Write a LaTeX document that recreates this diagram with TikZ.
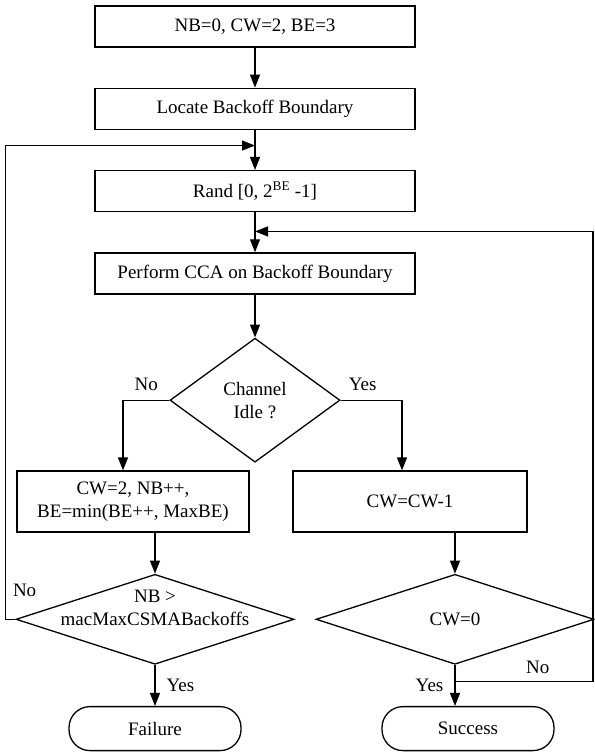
\documentclass[tikz,border=0pt]{standalone}
\usepackage{fontspec}
\setmainfont{Liberation Serif}
\usetikzlibrary{shapes.geometric, positioning, arrows.meta, calc}

\begin{document}
\begin{tikzpicture}[
    x=1pt, y=-1pt,
    line width=1.3pt,
    font=\fontsize{19}{23}\selectfont,
    node distance = 40pt,
    box/.style={
        draw, rectangle, align=center, inner sep=0pt, minimum width=320pt, minimum height=41pt
    },
    sbox/.style={
        box, minimum width=232pt, minimum height=61pt
    },
    dia/.style={
        draw, diamond, align=center, inner sep=0pt
    },
    term/.style={
        draw, rectangle, rounded corners=21pt, inner sep=0pt, minimum width=172pt, minimum height=44pt
    },
    lbl/.style={
        inner sep=1pt
    },
    arr/.style={
        -{Triangle[length=13pt,width=10pt]}
    }
]
    \useasboundingbox (0,0) rectangle (595,756);

    \node[box] (init) at (255,26.5) {NB=0, CW=2, BE=3};
    \node[box,below=of init] (locate) {Locate Backoff Boundary};
    \node[box,below=of locate] (rand) {Rand [0, 2\textsuperscript{BE} -1]};
    \node[box,below=of rand] (cca) {Perform CCA on Backoff Boundary};
    \node[dia,below=43pt of cca,minimum width=170pt,minimum height=124pt] (chan) {Channel\\Idle ?};

    \node[sbox] (upd) at (133,501.5) {CW=2, NB++,\\BE=min(BE++, MaxBE)};
    \node[sbox,minimum width=234pt] (cwdec) at (410,501.5) {CW=CW-1};

    \node[dia,below=41pt of upd,xshift=22pt,minimum width=278pt,minimum height=90pt] (nbchk) {};
    \node[align=center,inner sep=0pt] (nbtxt) at ([yshift=11pt]nbchk.center) {NB >\\macMaxCSMABackoffs};
    \node[dia,below=41pt of cwdec,xshift=45pt,minimum width=278pt,minimum height=90pt] (cwchk) {CW=0};

    \node[term,below=41pt of nbchk] (fail) {Failure};
    \node[term,below=41pt of cwchk,xshift=13pt] (succ) {Success};

    % join points of the two loops
    \coordinate (j1) at ($(locate.south)!.39!(rand.north)$);
    \coordinate (j2) at ($(rand.south)!.48!(cca.north)$);
    \coordinate (j3) at ($(cwchk.south)!.41!(cwchk.south |- succ.north)$);

    \draw[arr] (init) -- (locate);
    \draw[arr] (locate) -- (rand);
    \draw[arr] (rand) -- (cca);
    \draw[arr] (cca) -- (chan);
    \draw[arr] (chan.west) -| node[lbl,pos=.25,above=8pt]{No} ([xshift=-10pt]upd.north);
    \draw[arr] (chan.east) -| node[lbl,pos=.18,above=8pt]{Yes} ([xshift=-8pt]cwdec.north);
    \draw[arr] (upd.south -| nbchk.north) -- (nbchk);
    \draw[arr] (cwdec.south -| cwchk.north) -- (cwchk);
    \draw[arr] (nbchk) -- node[lbl,right=10pt]{Yes} (fail);
    \draw[arr] (cwchk) -- node[lbl,left=10pt]{Yes} (cwchk.south |- succ.north);

    \draw[arr] (nbchk.west) -- node[lbl,pos=0,anchor=base west,xshift=-4pt,yshift=23pt]{No} ++(-10,0) |- (j1);
    \draw[arr] (j3) -- node[lbl,pos=.6,above=6pt]{No} ++(138,0) |- (j2);

\end{tikzpicture}
\end{document}
